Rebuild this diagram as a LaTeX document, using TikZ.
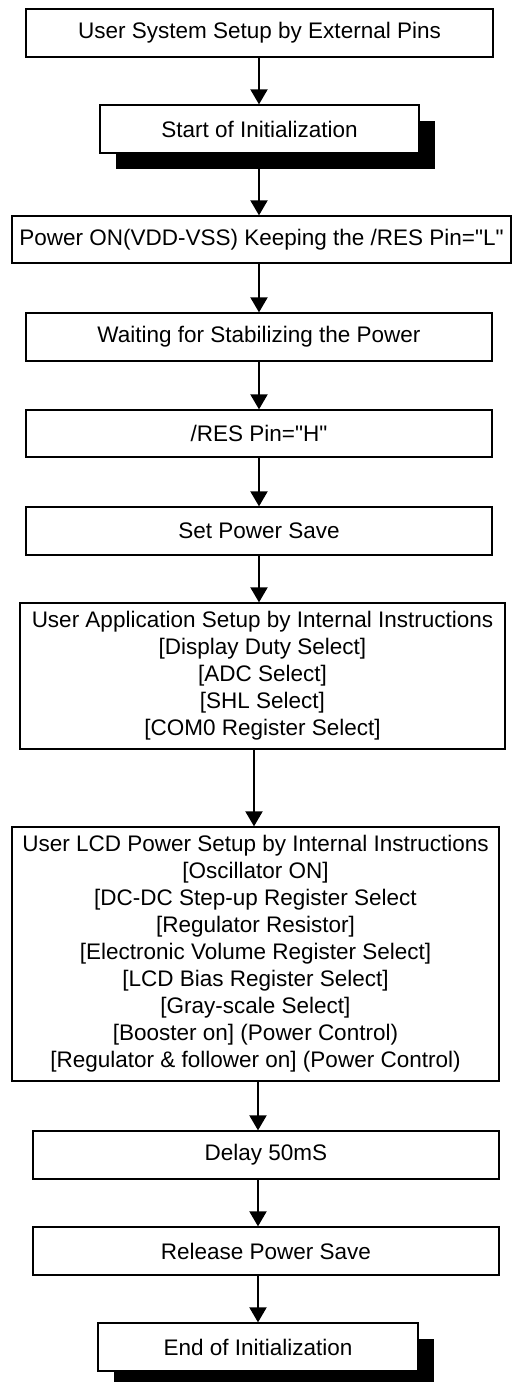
\documentclass[tikz,border=0pt]{standalone}
\usepackage{fontspec}
\setmainfont[Ligatures=TeXOff]{Liberation Sans}
\usetikzlibrary{arrows.meta}
\tikzset{
  box/.style={draw=black, fill=white, line width=1.3pt, inner sep=0pt, align=center,
    font=\fontsize{22.5pt}{27pt}\selectfont},
  shadowbox/.style={fill=black, draw=none, inner sep=0pt},
  arr/.style={line width=2pt, -{Triangle[length=15pt,width=17pt]}}
}
\begin{document}
\begin{tikzpicture}[x=1pt,y=-1pt]
\useasboundingbox (0,0) rectangle (512,1382);
\coordinate (ax) at (259,0);
\coordinate (ay) at (254,0);
\coordinate (az) at (258,0);
% shadows
\node[shadowbox, minimum width=319pt, minimum height=48pt] (s2) at (275.5,145) {};
\node[shadowbox, minimum width=320pt, minimum height=48pt] (s11) at (274,1363) {};
% boxes
\node[box, minimum width=467pt, minimum height=48pt] (b1) at (259.5,33) {User System Setup by External Pins};
\node[box, minimum width=319pt, minimum height=48pt] (b2) at (259.5,129) {Start of Initialization};
\node[box, minimum width=499pt, minimum height=47pt] (b3) at (261.5,239.5) {Power ON(VDD-VSS) Keeping the /RES Pin="L"};
\node[box, minimum width=466pt, minimum height=48pt] (b4) at (259,337) {Waiting for Stabilizing the Power};
\node[box, minimum width=466pt, minimum height=47pt] (b5) at (259,433.5) {/RES Pin="H"};
\node[box, minimum width=466pt, minimum height=48pt] (b6) at (259,531) {Set Power Save};
\node[box, minimum width=485pt, minimum height=146pt] (b7) at (262.5,676) {User Application Setup by Internal Instructions\\{[Display Duty Select]}\\{[ADC Select]}\\{[SHL Select]}\\{[COM0 Register Select]}};
\node[box, minimum width=487pt, minimum height=254pt] (b8) at (255.5,954) {User LCD Power Setup by Internal Instructions\\{[Oscillator ON]}\\{[DC-DC Step-up Register Select}\\{[Regulator Resistor]}\\{[Electronic Volume Register Select]}\\{[LCD Bias Register Select]}\\{[Gray-scale Select]}\\{[Booster on] (Power Control)}\\{[Regulator \& follower on] (Power Control)}};
\node[box, minimum width=466pt, minimum height=48pt] (b9) at (266,1155) {Delay 50mS};
\node[box, minimum width=466pt, minimum height=48pt] (b10) at (266,1251) {Release Power Save};
\node[box, minimum width=320pt, minimum height=48pt] (b11) at (258,1347) {End of Initialization};
% connectors
\draw[arr] (b1.south -| ax) -- (b2.north -| ax);
\draw[arr] (s2.south -| ax) -- (b3.north -| ax);
\draw[arr] (b3.south -| ax) -- (b4.north -| ax);
\draw[arr] (b4.south -| ax) -- (b5.north -| ax);
\draw[arr] (b5.south -| ax) -- (b6.north -| ax);
\draw[arr] (b6.south -| ax) -- (b7.north -| ax);
\draw[arr] (b7.south -| ay) -- (b8.north -| ay);
\draw[arr] (b8.south -| az) -- (b9.north -| az);
\draw[arr] (b9.south -| az) -- (b10.north -| az);
\draw[arr] (b10.south -| az) -- (b11.north -| az);
\end{tikzpicture}
\end{document}
